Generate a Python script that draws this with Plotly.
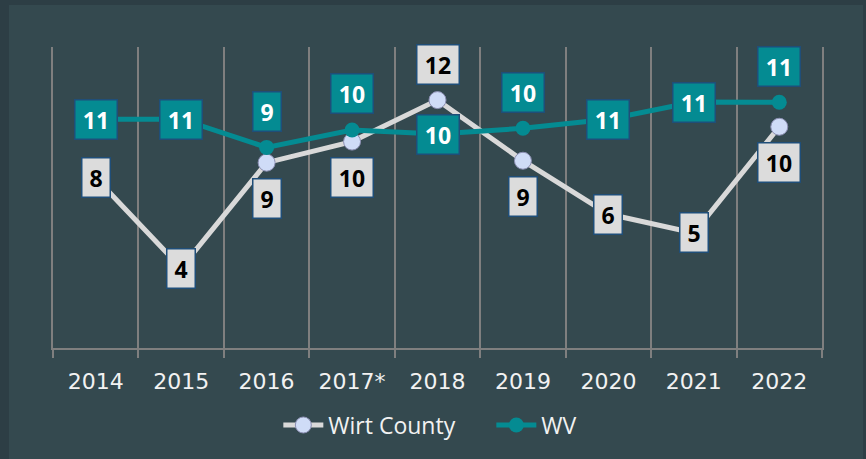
import plotly.graph_objects as go

years = ["2014", "2015", "2016", "2017*", "2018", "2019", "2020", "2021", "2022"]
wirt_values = [7.91, 3.72, 8.62, 9.60, 11.53, 8.71, 6.23, 5.35, 10.29]
wv_values = [10.64, 10.64, 9.33, 10.14, 9.95, 10.22, 10.64, 11.44, 11.43]
wirt_labels = [8, 4, 9, 10, 12, 9, 6, 5, 10]
wv_labels = [11, 11, 9, 10, 10, 10, 11, 11, 11]

# label placement: c = centered on point, a = above, b = below
wirt_place = ["c", "c", "b", "b", "a", "b", "c", "c", "b"]
wv_place = ["c", "c", "a", "a", "c", "a", "c", "c", "a"]

OUTER = "#2d3e45"
INNER = "#34494f"
GRID = "#7f7f7f"
TEAL = "#048b92"
LIGHT = "#d9d9d9"
TXT = "#f2f2f2"

fig = go.Figure()
fig.add_trace(go.Scatter(
    x=years, y=wirt_values, name="Wirt County", mode="lines+markers",
    line=dict(color=LIGHT, width=5),
    marker=dict(size=17, color="#cfdcf7", line=dict(color="#8c8fb3", width=1)),
))
fig.add_trace(go.Scatter(
    x=years, y=wv_values, name="WV", mode="lines+markers",
    line=dict(color=TEAL, width=5),
    marker=dict(size=15, color=TEAL, line=dict(width=0)),
))

shift = {"c": 0, "a": 36, "b": -36}
annotations = []
for ys, labs, places, bg, fc in [
    (wirt_values, wirt_labels, wirt_place, "#dcdcdc", "#000000"),
    (wv_values, wv_labels, wv_place, TEAL, "#ffffff"),
]:
    for i, (y, lab, p) in enumerate(zip(ys, labs, places)):
        t = str(lab)
        annotations.append(dict(
            x=i, y=y, xref="x", yref="y", text="<b>%s</b>" % t, showarrow=False,
            yshift=shift[p], bgcolor=bg, bordercolor="#1f4e79", borderwidth=1.5,
            borderpad=0, width=13 + 14 * len(t), height=38,
            font=dict(family="Open Sans", size=23, color=fc),
        ))

fig.update_layout(
    width=866, height=459,
    margin=dict(l=53, r=44, t=47, b=111),
    paper_bgcolor=OUTER, plot_bgcolor="rgba(0,0,0,0)",
    showlegend=True,
    legend=dict(orientation="h", x=0.57, xanchor="center", y=-0.256, yanchor="middle",
                font=dict(family="Open Sans", size=23, color=TXT),
                bgcolor="rgba(0,0,0,0)", itemwidth=40,
                entrywidth=158, entrywidthmode="pixels"),
    annotations=annotations,
    shapes=[dict(type="rect", xref="paper", yref="paper",
                 x0=(9 - 53) / 769, x1=(863 - 53) / 769,
                 y0=-0.6, y1=1 + (47 - 5) / 301,
                 fillcolor=INNER, line=dict(width=0), layer="below")],
)
fig.update_xaxes(
    type="category", range=[-0.5, 8.5], tickson="boundaries",
    showgrid=True, gridcolor=GRID, gridwidth=2,
    showline=True, linecolor=GRID, linewidth=2,
    ticks="outside", ticklen=8, tickcolor=GRID, tickwidth=2,
    tickfont=dict(family="DejaVu Sans", size=22, color=TXT),
    ticklabelstandoff=13, zeroline=False,
)
fig.update_yaxes(range=[0, 14], showticklabels=False, ticks="", showgrid=False,
                 zeroline=False, showline=True, mirror=True, linecolor=GRID, linewidth=2)

fig.write_html("out.html")
